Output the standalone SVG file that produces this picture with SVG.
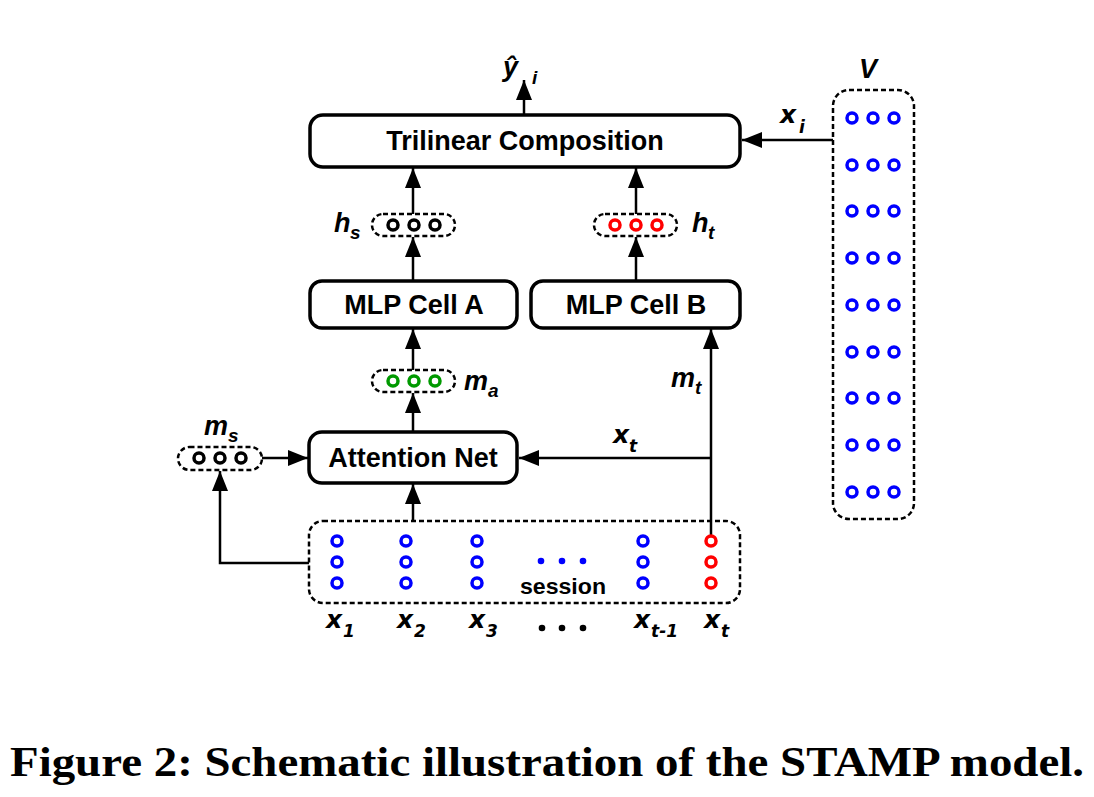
<svg xmlns="http://www.w3.org/2000/svg" width="1094" height="797" viewBox="0 0 1094 797">
<style>
.box{fill:#fff;stroke:#000;stroke-width:3.5}
.dash{fill:none;stroke:#000;stroke-width:2.5;stroke-dasharray:5 3}
.lbl{font-family:"Liberation Sans",Arial,sans-serif;font-weight:bold;font-size:27px;text-anchor:middle}
.it{font-family:"Liberation Sans",Arial,sans-serif;font-weight:bold;font-style:italic;font-size:27px}
.sub{font-size:19px}
.vx{font-family:"DejaVu Sans",Verdana,sans-serif;font-weight:bold;font-style:italic;font-size:25px}
.vsub{font-size:17px}
.cb{fill:none;stroke:#0000ff;stroke-width:3.5}
.cr{fill:none;stroke:#ff0000;stroke-width:3.5}
.cg{fill:none;stroke:#009900;stroke-width:3.5}
.ck{fill:none;stroke:#000;stroke-width:3.5}
.conn{fill:none;stroke:#000;stroke-width:2.5}
</style>
<defs>
<marker id="ah" viewBox="0 0 20 16" refX="20" refY="8" markerWidth="20" markerHeight="16" markerUnits="userSpaceOnUse" orient="auto">
<path d="M0,0 L20,8 L0,16 z" fill="#000"/>
</marker>
</defs>
<rect width="1094" height="797" fill="#fff"/>

<g id="connectors">
<line class="conn" x1="524" y1="115" x2="524" y2="80" marker-end="url(#ah)"/>
<line class="conn" x1="833" y1="140" x2="742" y2="140" marker-end="url(#ah)"/>
<line class="conn" x1="413" y1="214" x2="413" y2="168" marker-end="url(#ah)"/>
<line class="conn" x1="636" y1="214" x2="636" y2="168" marker-end="url(#ah)"/>
<line class="conn" x1="413" y1="281" x2="413" y2="237" marker-end="url(#ah)"/>
<line class="conn" x1="636" y1="281" x2="636" y2="237" marker-end="url(#ah)"/>
<line class="conn" x1="413" y1="370" x2="413" y2="329" marker-end="url(#ah)"/>
<line class="conn" x1="413" y1="432" x2="413" y2="393" marker-end="url(#ah)"/>
<line class="conn" x1="413" y1="521" x2="413" y2="484" marker-end="url(#ah)"/>
<line class="conn" x1="711" y1="535" x2="711" y2="329" marker-end="url(#ah)"/>
<line class="conn" x1="711" y1="458" x2="519" y2="458" marker-end="url(#ah)"/>
<line class="conn" x1="262" y1="458" x2="308" y2="458" marker-end="url(#ah)"/>
<path class="conn" d="M309,563 H220 V471" marker-end="url(#ah)"/>
</g>

<g id="yhat">
<text class="it" x="503" y="76" font-size="38">ŷ</text>
<text class="it sub" x="532" y="84">i</text>
</g>

<g id="trilinear">
<rect class="box" x="310" y="115" width="430" height="52" rx="13"/>
<text class="lbl" x="525" y="150">Trilinear Composition</text>
</g>

<g id="V">
<rect class="dash" x="833" y="90" width="81" height="429" rx="16"/>
<text class="it" x="859" y="78" font-size="32">V</text>
<g>
<circle class="cb" cx="852" cy="118" r="5"/><circle class="cb" cx="873" cy="118" r="5"/><circle class="cb" cx="894" cy="118" r="5"/>
<circle class="cb" cx="852" cy="165" r="5"/><circle class="cb" cx="873" cy="165" r="5"/><circle class="cb" cx="894" cy="165" r="5"/>
<circle class="cb" cx="852" cy="211" r="5"/><circle class="cb" cx="873" cy="211" r="5"/><circle class="cb" cx="894" cy="211" r="5"/>
<circle class="cb" cx="852" cy="258" r="5"/><circle class="cb" cx="873" cy="258" r="5"/><circle class="cb" cx="894" cy="258" r="5"/>
<circle class="cb" cx="852" cy="305" r="5"/><circle class="cb" cx="873" cy="305" r="5"/><circle class="cb" cx="894" cy="305" r="5"/>
<circle class="cb" cx="852" cy="352" r="5"/><circle class="cb" cx="873" cy="352" r="5"/><circle class="cb" cx="894" cy="352" r="5"/>
<circle class="cb" cx="852" cy="398" r="5"/><circle class="cb" cx="873" cy="398" r="5"/><circle class="cb" cx="894" cy="398" r="5"/>
<circle class="cb" cx="852" cy="445" r="5"/><circle class="cb" cx="873" cy="445" r="5"/><circle class="cb" cx="894" cy="445" r="5"/>
<circle class="cb" cx="852" cy="492" r="5"/><circle class="cb" cx="873" cy="492" r="5"/><circle class="cb" cx="894" cy="492" r="5"/>
</g>
</g>

<g id="xi">
<text class="vx" x="780" y="123">x</text>
<text class="vx vsub" x="799" y="133">i</text>
</g>

<g id="hs">
<rect class="dash" x="372" y="214" width="83" height="22" rx="11"/>
<circle class="ck" cx="393" cy="225" r="5"/><circle class="ck" cx="414" cy="225" r="5"/><circle class="ck" cx="435" cy="225" r="5"/>
<text class="it" x="334" y="232">h</text>
<text class="it sub" x="350" y="239">s</text>
</g>

<g id="ht">
<rect class="dash" x="594" y="214" width="83" height="22" rx="11"/>
<circle class="cr" cx="615" cy="225" r="5"/><circle class="cr" cx="636" cy="225" r="5"/><circle class="cr" cx="657" cy="225" r="5"/>
<text class="it" x="692" y="232">h</text>
<text class="it sub" x="708" y="239">t</text>
</g>

<g id="mlpA">
<rect class="box" x="310" y="281" width="207" height="47" rx="12"/>
<text class="lbl" x="414" y="314">MLP Cell A</text>
</g>

<g id="mlpB">
<rect class="box" x="531" y="281" width="209" height="47" rx="12"/>
<text class="lbl" x="636" y="314">MLP Cell B</text>
</g>

<g id="ma">
<rect class="dash" x="372" y="370" width="83" height="22" rx="11"/>
<circle class="cg" cx="393" cy="381" r="5"/><circle class="cg" cx="414" cy="381" r="5"/><circle class="cg" cx="435" cy="381" r="5"/>
<text class="it" x="464" y="390">m</text>
<text class="it sub" x="488" y="397">a</text>
</g>

<g id="mt">
<text class="it" x="671" y="387">m</text>
<text class="it sub" x="695" y="394">t</text>
</g>

<g id="xt-label">
<text class="vx" x="613" y="443">x</text>
<text class="vx vsub" x="629" y="452">t</text>
</g>

<g id="attention">
<rect class="box" x="309" y="432" width="208" height="51" rx="13"/>
<text class="lbl" x="413" y="467">Attention Net</text>
</g>

<g id="ms">
<rect class="dash" x="178" y="447" width="84" height="23" rx="11.5"/>
<circle class="ck" cx="199" cy="458" r="5"/><circle class="ck" cx="220" cy="458" r="5"/><circle class="ck" cx="241" cy="458" r="5"/>
<text class="it" x="204" y="435">m</text>
<text class="it sub" x="228" y="442">s</text>
</g>

<g id="session">
<rect class="dash" x="309" y="521" width="431" height="82" rx="14"/>
<circle class="cb" cx="337" cy="541" r="5"/><circle class="cb" cx="337" cy="562" r="5"/><circle class="cb" cx="337" cy="583" r="5"/>
<circle class="cb" cx="406" cy="541" r="5"/><circle class="cb" cx="406" cy="562" r="5"/><circle class="cb" cx="406" cy="583" r="5"/>
<circle class="cb" cx="477" cy="541" r="5"/><circle class="cb" cx="477" cy="562" r="5"/><circle class="cb" cx="477" cy="583" r="5"/>
<circle class="cb" cx="643" cy="541" r="5"/><circle class="cb" cx="643" cy="562" r="5"/><circle class="cb" cx="643" cy="583" r="5"/>
<circle class="cr" cx="711" cy="541" r="5"/><circle class="cr" cx="711" cy="562" r="5"/><circle class="cr" cx="711" cy="583" r="5"/>
<circle cx="541" cy="561" r="3.3" fill="#0000ff"/><circle cx="562" cy="561" r="3.3" fill="#0000ff"/><circle cx="583" cy="561" r="3.3" fill="#0000ff"/>
<text x="520" y="594" font-family="Liberation Sans,Arial,sans-serif" font-weight="bold" font-size="22" textLength="86" lengthAdjust="spacingAndGlyphs">session</text>
</g>

<g id="xlabels">
<text class="vx" x="326" y="628">x</text><text class="vx vsub" x="343" y="637">1</text>
<text class="vx" x="397" y="628">x</text><text class="vx vsub" x="414" y="637">2</text>
<text class="vx" x="469" y="628">x</text><text class="vx vsub" x="486" y="637">3</text>
<circle cx="542" cy="628" r="3.3" fill="#000"/><circle cx="562" cy="628" r="3.3" fill="#000"/><circle cx="583" cy="628" r="3.3" fill="#000"/>
<text class="vx" x="634" y="628">x</text><text class="vx vsub" x="651" y="637">t-1</text>
<text class="vx" x="704" y="628">x</text><text class="vx vsub" x="721" y="637">t</text>
</g>

<text x="10" y="776" font-family="Liberation Serif,Times New Roman,serif" font-weight="bold" font-size="42" textLength="1074" lengthAdjust="spacingAndGlyphs">Figure 2: Schematic illustration of the STAMP model.</text>
</svg>
